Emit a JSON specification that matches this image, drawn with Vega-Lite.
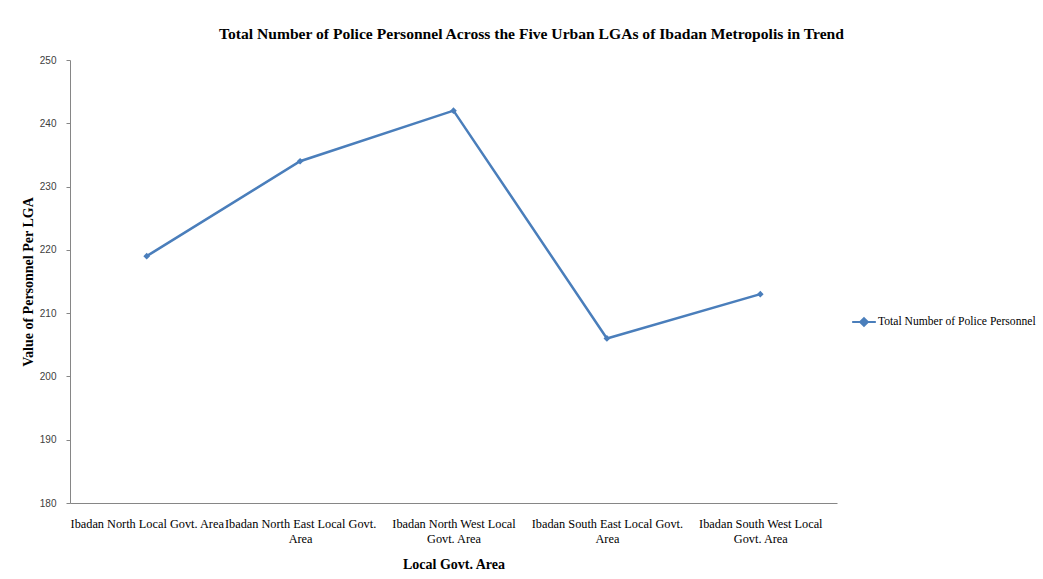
{
  "$schema": "https://vega.github.io/schema/vega-lite/v6.json",
  "autosize": {"type": "none"},
  "width": 767,
  "height": 443,
  "padding": {"left": 70, "top": 60, "right": 206, "bottom": 76},
  "background": "white",
  "config": {"view": {"stroke": null}},
  "title": {
    "text": "Total Number of Police Personnel Across the Five Urban LGAs of Ibadan Metropolis in Trend",
    "font": "Liberation Serif",
    "fontSize": 15.6,
    "fontWeight": "bold",
    "color": "#000000",
    "anchor": "middle",
    "dx": 78,
    "offset": 12
  },
  "data": {
    "values": [
      {"lga": "Ibadan North Local Govt. Area", "personnel": 219, "series": "Total Number of Police Personnel"},
      {"lga": "Ibadan North East Local Govt. Area", "personnel": 234, "series": "Total Number of Police Personnel"},
      {"lga": "Ibadan North West Local Govt. Area", "personnel": 242, "series": "Total Number of Police Personnel"},
      {"lga": "Ibadan South East Local Govt. Area", "personnel": 206, "series": "Total Number of Police Personnel"},
      {"lga": "Ibadan South West Local Govt. Area", "personnel": 213, "series": "Total Number of Police Personnel"}
    ]
  },
  "mark": {
    "type": "line",
    "strokeWidth": 2.5,
    "point": {"shape": "diamond", "filled": true, "size": 45}
  },
  "encoding": {
    "x": {
      "field": "lga",
      "type": "ordinal",
      "sort": null,
      "scale": {"type": "point", "padding": 0.5},
      "axis": {
        "title": "Local Govt. Area",
        "titleFont": "Liberation Serif",
        "titleFontSize": 14,
        "titleFontWeight": "bold",
        "titleColor": "#000000",
        "titlePadding": 13,
        "labelAngle": 0,
        "labelFont": "Liberation Serif",
        "labelFontSize": 12.3,
        "labelColor": "#000000",
        "labelLineHeight": 15,
        "labelPadding": 14,
        "labelOverlap": false,
        "labelLimit": 0,
        "labelExpr": "datum.label == 'Ibadan North Local Govt. Area' ? datum.label : indexof(datum.label, 'West') >= 0 ? [replace(datum.label, ' Govt. Area', ''), 'Govt. Area'] : [replace(datum.label, ' Area', ''), 'Area']",
        "ticks": false,
        "domainColor": "#868686",
        "domainWidth": 1,
        "grid": false
      }
    },
    "y": {
      "field": "personnel",
      "type": "quantitative",
      "scale": {"domain": [180, 250], "zero": false, "nice": false},
      "axis": {
        "title": "Value of Personnel Per LGA",
        "titleFont": "Liberation Serif",
        "titleFontSize": 14,
        "titleFontWeight": "bold",
        "titleColor": "#000000",
        "titlePadding": 4,
        "values": [180, 190, 200, 210, 220, 230, 240, 250],
        "labelFont": "Liberation Sans",
        "labelFontSize": 10,
        "labelColor": "#404040",
        "labelPadding": 10,
        "tickSize": 4,
        "tickColor": "#868686",
        "domainColor": "#868686",
        "grid": false
      }
    },
    "color": {
      "field": "series",
      "type": "nominal",
      "scale": {"range": ["#4A7EBB"]},
      "legend": {
        "title": null,
        "orient": "none",
        "legendX": 781,
        "legendY": 249,
        "symbolType": "M-1,0H1M0,-0.33L0.33,0L0,0.33L-0.33,0Z",
        "symbolSize": 560,
        "symbolStrokeWidth": 2,
        "symbolFillColor": "#4A7EBB",
        "labelFont": "Liberation Serif",
        "labelFontSize": 11.6,
        "labelColor": "#000000",
        "labelLimit": 0,
        "labelOffset": 1
      }
    }
  }
}
